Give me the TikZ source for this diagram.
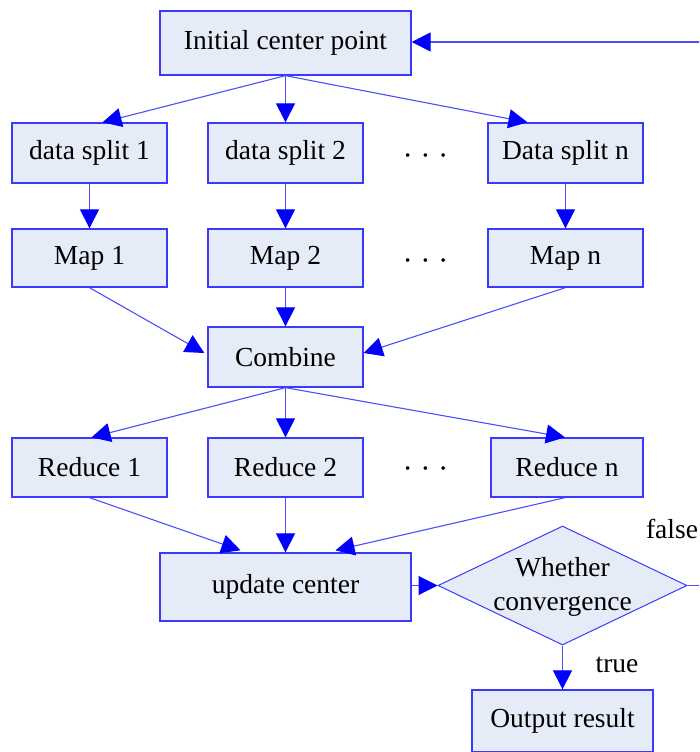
\documentclass[tikz,border=0pt]{standalone}
\usepackage{fontspec}
\setmainfont{Liberation Serif}
\usetikzlibrary{arrows.meta,shapes.geometric,calc}
\definecolor{boxfill}{HTML}{E5ECF7}
\definecolor{boxline}{HTML}{3A3AFF}
\definecolor{arrline}{HTML}{4D4DFF}
\begin{document}
\begin{tikzpicture}[x=1pt,y=-1pt,
  every node/.style={font=\fontsize{27.5}{33}\selectfont},
  pbox/.style={draw=boxline,fill=boxfill,line width=1.3pt,minimum width=155pt,minimum height=60pt,inner sep=0pt},
  wbox/.style={pbox,minimum width=251pt,minimum height=66pt},
  dec/.style={diamond,draw=boxline,fill=boxfill,line width=1pt,minimum width=249pt,minimum height=119pt,inner sep=0pt,aspect=2.1},
  dectext/.style={align=center,font=\fontsize{27.5}{34}\selectfont,inner sep=0pt},
  arr/.style={draw=arrline,line width=1.1pt,-{Triangle[length=19pt,width=19pt,fill=blue,color=blue]}},
  ln/.style={draw=arrline,line width=1.1pt},
  dots/.style={anchor=base,inner sep=0pt,font=\fontsize{15}{16}\selectfont}
]
\useasboundingbox (0,0) rectangle (699,752);
\clip (0,0) rectangle (699,752);

\node[wbox,minimum height=64pt] (init) at (285.5,43) {Initial center point};
\node[pbox] (ds1) at (89.5,153) {data split 1};
\node[pbox] (ds2) at (285.5,153) {data split 2};
\node[pbox] (dsn) at (565.5,153) {Data split n};
\node[dots] (d1) at (425.5,160) {•\hspace{12.5pt}•\hspace{12.5pt}•};
\node[pbox,minimum height=58pt] (m1) at (89.5,258) {Map 1};
\node[pbox,minimum height=58pt] (m2) at (285.5,258) {Map 2};
\node[pbox,minimum height=58pt] (mn) at (565.5,258) {Map n};
\node[dots] (d2) at (425.5,265) {•\hspace{12.5pt}•\hspace{12.5pt}•};
\node[pbox] (comb) at (285.5,357) {Combine};
\node[pbox,minimum height=59pt] (r1) at (89.5,467.5) {Reduce 1};
\node[pbox,minimum height=59pt] (r2) at (285.5,467.5) {Reduce 2};
\node[pbox,minimum height=59pt,minimum width=152pt] (rn) at (567,467.5) {Reduce n};
\node[dots] (d3) at (425.5,473.5) {•\hspace{12.5pt}•\hspace{12.5pt}•};
\node[wbox,minimum height=68pt] (upd) at (285.5,587) {update center};
\node[dec] (conv) at (562.5,585.5) {};
\node[dectext] (convt) at (562.5,587) {Whether\\convergence};
\node[pbox,minimum width=181pt,minimum height=62pt] (out) at (562.5,721) {Output result};
\node (fl) at (672,529) {false};
\node (tl) at (617,665) {true};

\coordinate (fbr) at (710,585.5);
\coordinate (fbt) at (710,42);

\draw[arr] (init.south) -- ($(ds1.north)+(13,0)$);
\draw[arr] (init.south) -- (ds2.north);
\draw[arr] (init.south) -- ($(dsn.north)+(-38,0)$);
\draw[arr] (ds1) -- (m1);
\draw[arr] (ds2) -- (m2);
\draw[arr] (dsn) -- (mn);
\draw[arr] (m1.south) -- ($(comb.west)+(-3,-4)$);
\draw[arr] (m2) -- (comb);
\draw[arr] (mn.south) -- ($(comb.east)+(0,-4)$);
\draw[arr] (comb.south) -- ($(r1.north)+(2,0)$);
\draw[arr] (comb.south) -- (r2.north);
\draw[arr] (comb.south) -- ($(rn.north)+(-2,0)$);
\draw[arr] (r1.south) -- ($(upd.north)+(-45,-2)$);
\draw[arr] (r2) -- (upd);
\draw[arr] ($(rn.south)+(-2,0)$) -- ($(upd.north)+(50,-2)$);
\draw[arr] (upd.east |- conv.west) -- (conv.west);
\draw[arr] (conv.south) -- (out.north);
\draw[ln] (conv.east) -- (fbr) -- (fbt);
\draw[arr] (fbt) -- (init.east |- fbt);
\end{tikzpicture}
\end{document}
